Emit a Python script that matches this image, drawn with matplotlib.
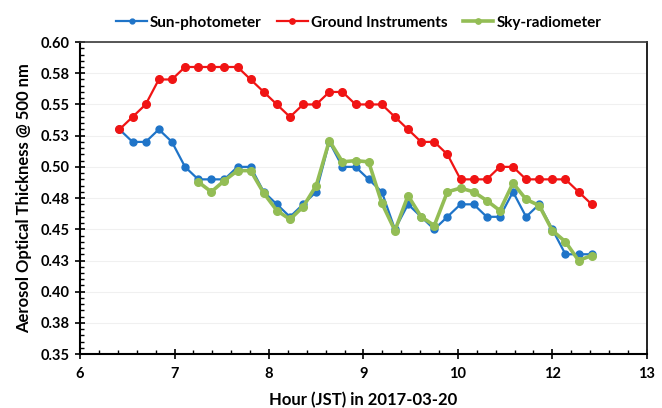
import math
import matplotlib
matplotlib.use("Agg")
import matplotlib.pyplot as plt
from matplotlib.ticker import MultipleLocator, FuncFormatter

plt.rcParams['font.family'] = ['Lato', 'DejaVu Sans']
plt.rcParams['font.weight'] = 'bold'

# observation times (JST), every 10 minutes
times = ["06:30", "06:40", "06:50", "07:00", "07:10", "07:20", "07:30", "07:40",
         "07:50", "08:00", "08:10", "08:20", "08:30", "08:40", "08:50", "09:00",
         "09:10", "09:20", "09:30", "09:40", "09:50", "10:00", "10:10", "10:20",
         "10:30", "10:40", "10:50", "11:00", "11:10", "11:20", "11:30", "11:40",
         "11:50", "12:00", "12:10", "12:20", "12:30"]
hours = [int(t[:2]) + int(t[3:]) / 60 for t in times]

sun_photometer = [0.53, 0.52, 0.52, 0.53, 0.52, 0.50, 0.49, 0.49, 0.49, 0.50,
                  0.50, 0.48, 0.47, 0.46, 0.47, 0.48, 0.52, 0.50, 0.50, 0.49,
                  0.48, 0.45, 0.47, 0.46, 0.45, 0.46, 0.47, 0.47, 0.46, 0.46,
                  0.48, 0.46, 0.47, 0.45, 0.43, 0.43, 0.43]

ground = [0.53, 0.54, 0.55, 0.57, 0.57, 0.58, 0.58, 0.58, 0.58, 0.58,
          0.57, 0.56, 0.55, 0.54, 0.55, 0.55, 0.56, 0.56, 0.55, 0.55,
          0.55, 0.54, 0.53, 0.52, 0.52, 0.51, 0.49, 0.49, 0.49, 0.50,
          0.50, 0.49, 0.49, 0.49, 0.49, 0.48, 0.47]

# sky-radiometer starts at 07:30
sky_start = 6
sky_radiometer = [0.488, 0.480, 0.489, 0.497, 0.497, 0.479, 0.465, 0.458,
                  0.468, 0.485, 0.521, 0.504, 0.505, 0.504, 0.471, 0.449,
                  0.477, 0.460, 0.453, 0.480, 0.483, 0.480, 0.473, 0.465,
                  0.487, 0.474, 0.469, 0.449, 0.440, 0.425, 0.429]

fig = plt.figure(figsize=(6.62, 4.08), dpi=100)
ax = fig.add_axes([0.121, 0.132, 0.856, 0.765])

ax.plot(hours, sun_photometer, marker='o', ms=5, lw=1.6, color='#1f74c8',
        label='Sun-photometer')
ax.plot(hours, ground, marker='o', ms=5.5, lw=1.6, color='#f01414',
        label='Ground Instruments')
ax.plot(hours[sky_start:], sky_radiometer, marker='o', ms=5.5, lw=2.6,
        color='#93bd55', label='Sky-radiometer')

ax.set_xlim(6, 13.2)
ax.set_ylim(0.35, 0.60)
ax.xaxis.set_major_locator(MultipleLocator(1.2))
ax.xaxis.set_minor_locator(MultipleLocator(0.24))
ax.yaxis.set_major_locator(MultipleLocator(0.025))
ax.yaxis.set_minor_locator(MultipleLocator(0.005))
ax.xaxis.set_major_formatter(FuncFormatter(lambda v, p: f"{int(v + 1e-6)}"))
ax.yaxis.set_major_formatter(
    FuncFormatter(lambda v, p: f"{math.floor(v * 100 + 0.5 + 1e-6) / 100:.2f}"))

ax.tick_params(which='major', direction='inout', length=7, width=1.2,
               labelsize=10.5, colors='black', pad=4)
ax.tick_params(which='minor', direction='in', length=3, width=1)
ax.tick_params(axis='x', which='major', pad=6)

for side in ['left', 'bottom']:
    ax.spines[side].set_linewidth(1.5)
    ax.spines[side].set_color('black')
ax.spines['top'].set_color('#3a3a3a')
ax.spines['top'].set_linewidth(1.2)
ax.spines['right'].set_color('#222222')
ax.spines['right'].set_linewidth(1.4)

ax.grid(axis='y', which='major', color='#f0f0f0', lw=0.8)
ax.set_axisbelow(True)

ax.set_xlabel('Hour (JST) in 2017-03-20', fontsize=12, fontweight='bold',
              labelpad=8)
ax.set_ylabel('Aerosol Optical Thickness @ 500 nm', fontsize=12,
              fontweight='bold', labelpad=6)

fig.legend(loc='upper center', bbox_to_anchor=(0.542, 0.995), ncol=3,
           frameon=False, fontsize=11, handlelength=2.0, handletextpad=0.2,
           columnspacing=1.0, markerscale=0.7)

fig.savefig('out.png', dpi=100)
